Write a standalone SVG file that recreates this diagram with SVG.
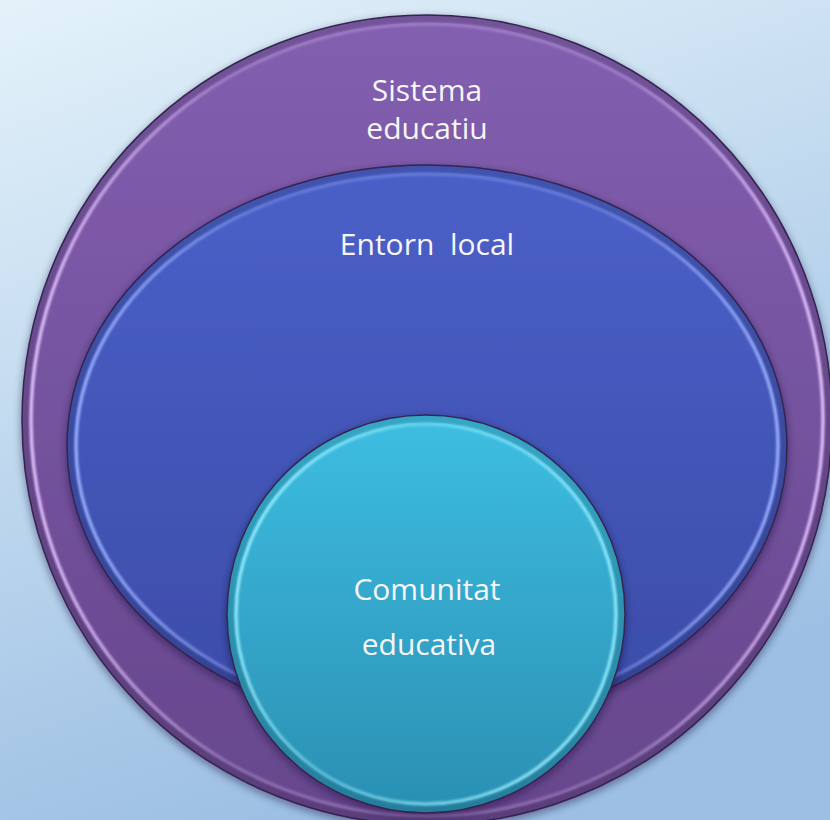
<svg xmlns="http://www.w3.org/2000/svg" width="830" height="820" viewBox="0 0 830 820">
<defs>
  <linearGradient id="bg" x1="0" y1="0" x2="0.35" y2="1">
    <stop offset="0" stop-color="#e4f2fa"/>
    <stop offset="1" stop-color="#9cbfe3"/>
  </linearGradient>
  <linearGradient id="gPurple" x1="0" y1="0" x2="0" y2="1">
    <stop offset="0" stop-color="#835fb0"/>
    <stop offset="1" stop-color="#66468c"/>
  </linearGradient>
  <linearGradient id="gBlue" x1="0" y1="0" x2="0" y2="1">
    <stop offset="0" stop-color="#4a60c8"/>
    <stop offset="1" stop-color="#3c4ca8"/>
  </linearGradient>
  <linearGradient id="gCyan" x1="0" y1="0" x2="0" y2="1">
    <stop offset="0" stop-color="#3dbee2"/>
    <stop offset="1" stop-color="#2b8fb2"/>
  </linearGradient>
  <linearGradient id="rimPurple" x1="0" y1="0" x2="1" y2="0">
    <stop offset="0" stop-color="#dcbaf8" stop-opacity="1"/>
    <stop offset="0.25" stop-color="#dcbaf8" stop-opacity="0.3"/>
    <stop offset="0.75" stop-color="#dcbaf8" stop-opacity="0.3"/>
    <stop offset="1" stop-color="#dcbaf8" stop-opacity="1"/>
  </linearGradient>
  <linearGradient id="rimBlue" x1="0" y1="0" x2="1" y2="0">
    <stop offset="0" stop-color="#93aafa" stop-opacity="1"/>
    <stop offset="0.25" stop-color="#93aafa" stop-opacity="0.35"/>
    <stop offset="0.75" stop-color="#93aafa" stop-opacity="0.35"/>
    <stop offset="1" stop-color="#93aafa" stop-opacity="1"/>
  </linearGradient>
  <linearGradient id="rimCyan" x1="0" y1="0" x2="1" y2="0.3">
    <stop offset="0" stop-color="#9af0ff" stop-opacity="1"/>
    <stop offset="0.45" stop-color="#9af0ff" stop-opacity="0.4"/>
    <stop offset="1" stop-color="#9af0ff" stop-opacity="0.8"/>
  </linearGradient>
  <filter id="blur" x="-5%" y="-5%" width="110%" height="110%">
    <feGaussianBlur stdDeviation="1"/>
  </filter>
  <filter id="shadow" x="-10%" y="-10%" width="120%" height="120%">
    <feDropShadow dx="0" dy="3" stdDeviation="4" flood-color="#1a1030" flood-opacity="0.45"/>
  </filter>
</defs>
<style>
  .edge { stroke: #35254f; stroke-width: 1.5; }
  .band { fill: none; stroke: #000; stroke-opacity: 0.12; stroke-width: 7; }
  .rim { fill: none; stroke-width: 3.5; filter: url(#blur); }
  .lbl { font-family: "Open Sans", "Liberation Sans", sans-serif; font-size: 30px; fill: #f6f6f8; text-anchor: middle; }
</style>
<rect x="0" y="0" width="830" height="820" fill="url(#bg)"/>

<g id="sistema">
  <circle cx="427" cy="420" r="405" fill="url(#gPurple)" class="edge" filter="url(#shadow)"/>
  <circle cx="427" cy="420" r="401" class="band"/>
  <circle cx="427" cy="420" r="396" class="rim" stroke="url(#rimPurple)"/>
  <text class="lbl" x="427" y="101">Sistema</text>
  <text class="lbl" x="427" y="139">educatiu</text>
</g>

<g id="entorn">
  <ellipse cx="427" cy="446" rx="360" ry="281" fill="url(#gBlue)" class="edge" filter="url(#shadow)"/>
  <ellipse cx="427" cy="446" rx="356" ry="277" class="band"/>
  <ellipse cx="427" cy="446" rx="351" ry="272" class="rim" stroke="url(#rimBlue)"/>
  <text class="lbl" x="427" y="255" xml:space="preserve">Entorn  local</text>
</g>

<g id="comunitat">
  <circle cx="426" cy="614" r="199" fill="url(#gCyan)" class="edge" stroke="#1f5f78" filter="url(#shadow)"/>
  <circle cx="426" cy="614" r="195" class="band"/>
  <circle cx="426" cy="614" r="190" class="rim" stroke="url(#rimCyan)"/>
  <text class="lbl" x="427" y="600">Comunitat</text>
  <text class="lbl" x="429" y="655">educativa</text>
</g>
</svg>
